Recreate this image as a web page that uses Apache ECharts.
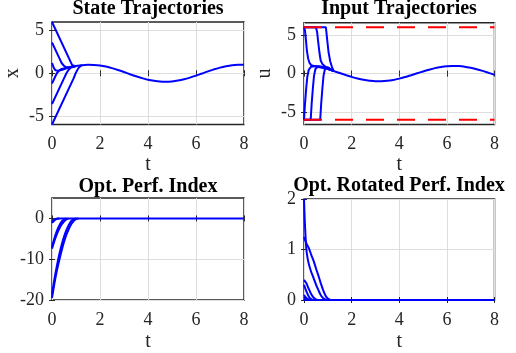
<!DOCTYPE html>
<html>
<head>
<meta charset="utf-8">
<script src="https://cdn.jsdelivr.net/npm/echarts@6/dist/echarts.min.js"></script>
<style>
html, body { margin: 0; padding: 0; background: #fff; }
#chart { width: 516px; height: 353px; }
</style>
</head>
<body>
<div id="chart"></div>
<script>
// tick labels
var tTicks = [0, 2, 4, 6, 8];
var xTicks = [-5, 0, 5];
var uTicks = [-5, 0, 5];
var perfTicks = [-20, -10, 0];
var rotTicks = [0, 1, 2];
var uLimit = 6;

// state trajectories x(t), one per initial state
var xFrom6 = [[0, 6], [0.84, 0.95], [0.95, 0.85], [1.0, 0.85]];
var xFrom36 = [[0, 3.6], [0.3, 1.8], [0.4, 1.2], [0.5, 0.85], [0.6, 0.7], [0.75, 0.72], [1.0, 0.84]];
var xFrom12 = [[0, 1.2], [0.08, 0.6], [0.15, 0.35], [0.25, 0.28], [0.4, 0.38], [0.6, 0.58], [0.8, 0.73], [1.0, 0.84]];
var xFromM12 = [[0, -1.2], [0.2, 0.0], [0.3, 0.35], [0.4, 0.5], [0.6, 0.62], [0.8, 0.73], [1.0, 0.84]];
var xFromM36 = [[0, -3.6], [0.5, -0.6], [0.6, 0.0], [0.7, 0.45], [0.8, 0.68], [1.0, 0.84]];
var xFromM6 = [[0, -6], [0.9, -0.6], [1.0, 0.1], [1.1, 0.6], [1.2, 0.88], [1.25, 0.95]];
var xSteady = [[1.0, 0.84], [1.25, 0.95], [1.5, 1.0], [1.75, 0.98], [2.0, 0.91], [2.25, 0.78], [2.5, 0.6],
  [2.75, 0.38], [3.0, 0.14], [3.25, -0.11], [3.5, -0.35], [3.75, -0.57], [4.0, -0.76], [4.25, -0.89],
  [4.5, -0.98], [4.75, -1.0], [5.0, -0.96], [5.25, -0.86], [5.5, -0.71], [5.75, -0.51], [6.0, -0.28],
  [6.25, -0.03], [6.5, 0.22], [6.75, 0.45], [7.0, 0.66], [7.25, 0.82], [7.5, 0.94], [7.75, 0.99], [8.0, 0.99]];

// input trajectories u(t)
var uFromM12 = [[0, 6], [0.04, 5.6], [0.08, 4.4], [0.12, 3.0], [0.17, 2.0], [0.23, 1.4], [0.3, 1.1], [0.45, 0.95], [0.7, 0.8], [1.0, 0.6], [1.25, 0.32]];
var uFromM36 = [[0, 6], [0.5, 6], [0.55, 5.4], [0.6, 4.0], [0.65, 2.7], [0.7, 1.7], [0.78, 1.2], [0.9, 0.9], [1.05, 0.7], [1.25, 0.32]];
var uFromM6 = [[0, 6], [0.92, 6], [0.97, 4.5], [1.03, 2.8], [1.1, 1.6], [1.18, 0.8], [1.25, 0.32]];
var uFrom12 = [[0, -6], [0.04, -4], [0.09, -2], [0.14, -0.4], [0.2, 0.5], [0.3, 0.9], [0.5, 1.0], [0.75, 0.85], [1.0, 0.62], [1.25, 0.32]];
var uFrom36 = [[0, -6], [0.28, -6], [0.32, -4], [0.37, -2], [0.42, -0.3], [0.48, 0.6], [0.6, 0.95], [0.8, 0.85], [1.0, 0.62], [1.25, 0.32]];
var uFrom6 = [[0, -6], [0.68, -6], [0.72, -4], [0.77, -2], [0.82, -0.3], [0.88, 0.6], [1.0, 0.8], [1.1, 0.6], [1.25, 0.32]];
var uSteady = [[1.25, 0.32], [1.5, 0.07], [1.75, -0.18], [2.0, -0.42], [2.25, -0.63], [2.5, -0.8], [2.75, -0.92],
  [3.0, -0.99], [3.25, -0.99], [3.5, -0.94], [3.75, -0.82], [4.0, -0.65], [4.25, -0.45], [4.5, -0.21],
  [4.75, 0.04], [5.0, 0.28], [5.25, 0.51], [5.5, 0.71], [5.75, 0.86], [6.0, 0.96], [6.25, 1.0], [6.5, 0.98],
  [6.75, 0.9], [7.0, 0.75], [7.25, 0.57], [7.5, 0.35], [7.75, 0.1], [8.0, -0.15]];
var uUpper = [[0, uLimit], [8, uLimit]];
var uLower = [[0, -uLimit], [8, -uLimit]];

// optimal performance index
var perfA = [[0, -19.5], [0.1, -16], [0.2, -12.9], [0.3, -10.3], [0.4, -7.9], [0.5, -5.8], [0.6, -4.0], [0.7, -2.6], [0.8, -1.45], [0.9, -0.65], [1.0, -0.16], [1.1, 0]];
var perfB = [[0, -18.6], [0.1, -14.9], [0.2, -11.7], [0.3, -8.9], [0.4, -6.5], [0.5, -4.5], [0.6, -2.9], [0.7, -1.6], [0.8, -0.7], [0.9, -0.2], [1.0, 0]];
var perfC = [[0, -7.4], [0.1, -5.5], [0.2, -3.9], [0.3, -2.55], [0.4, -1.5], [0.5, -0.75], [0.6, -0.25], [0.7, 0]];
var perfD = [[0, -7.0], [0.1, -4.9], [0.2, -3.1], [0.3, -1.8], [0.4, -0.8], [0.5, -0.2], [0.6, 0]];
var perfE = [[0, -1.1], [0.1, -0.5], [0.2, -0.12], [0.3, 0]];
var perfF = [[0, -0.9], [0.1, -0.3], [0.2, 0]];
var perfSteady = [[0.2, 0], [8, 0]];

// optimal rotated performance index
var rotA = [[0, 2], [0.03, 1.6], [0.06, 1.3], [0.1, 1.0], [0.15, 0.83], [0.2, 0.72], [0.3, 0.56], [0.4, 0.44], [0.5, 0.31], [0.6, 0.2], [0.7, 0.1], [0.8, 0.04], [0.9, 0.01], [1.0, 0]];
var rotB = [[0, 1.25], [0.1, 1.12], [0.2, 1.03], [0.3, 0.9], [0.4, 0.78], [0.5, 0.63], [0.6, 0.49], [0.7, 0.34], [0.8, 0.2], [0.9, 0.09], [1.0, 0.03], [1.1, 0]];
var rotC = [[0, 0.4], [0.1, 0.33], [0.2, 0.22], [0.3, 0.12], [0.4, 0.05], [0.5, 0.01], [0.6, 0]];
var rotD = [[0, 0.3], [0.1, 0.17], [0.2, 0.07], [0.3, 0.02], [0.4, 0]];
var rotE = [[0, 0.1], [0.1, 0.04], [0.2, 0.01], [0.3, 0]];
var rotF = [[0, 0.03], [0.1, 0.01], [0.2, 0]];
var rotSteady = [[0, 0], [8, 0]];

var font = 'Liberation Serif, Times New Roman, serif';
var ink = '#262626';

var grids = [
    { left: 52, top: 22, width: 192, height: 102.5 },
    { left: 304, top: 22.7, width: 190.5, height: 101.8 },
    { left: 52, top: 198, width: 192, height: 103 },
    { left: 304, top: 199, width: 190.5, height: 102 }
];
grids.forEach(function (g) {
    g.show = true;
    g.borderColor = ink;
    g.borderWidth = 1.5;
    g.backgroundColor = '#fff';
    g.containLabel = false;
});

function mainX(i, gap) {
    return {
        gridIndex: i, type: 'value', min: 0, max: 8, interval: 2,
        name: 't', nameLocation: 'middle', nameGap: gap,
        nameTextStyle: { fontFamily: font, fontSize: 20, color: ink },
        axisLine: { show: false },
        axisTick: { inside: true, length: 3, lineStyle: { color: ink, width: 1 } },
        axisLabel: { fontFamily: font, fontSize: 18, color: ink, margin: 11 },
        splitLine: { show: true, lineStyle: { color: '#dedede', width: 1 } }
    };
}
function topX(i) {
    return {
        gridIndex: i, type: 'value', min: 0, max: 8, interval: 2, position: 'top',
        axisLine: { show: false },
        axisTick: { inside: true, length: 3, lineStyle: { color: ink, width: 1 } },
        axisLabel: { show: false }, splitLine: { show: false }
    };
}
function mainY(i, min, max, ticks, name) {
    var ax = {
        gridIndex: i, type: 'value', min: min, max: max,
        axisLine: { show: false },
        axisTick: { inside: true, length: 3, customValues: ticks, lineStyle: { color: ink, width: 1 } },
        axisLabel: { fontFamily: font, fontSize: 18, color: ink, margin: 8, customValues: ticks },
        splitLine: { show: true, lineStyle: { color: '#dedede', width: 1 } }
    };
    if (name) {
        ax.name = name;
        ax.nameLocation = 'middle';
        ax.nameGap = 29;
        ax.nameRotate = 90;
        ax.nameTextStyle = { fontFamily: font, fontSize: 20, color: ink };
    }
    return ax;
}
function rightY(i, min, max, ticks) {
    return {
        gridIndex: i, type: 'value', min: min, max: max, position: 'right',
        axisLine: { show: false },
        axisTick: { inside: true, length: 3, customValues: ticks, lineStyle: { color: ink, width: 1 } },
        axisLabel: { show: false }, splitLine: { show: false }
    };
}

function blue(i, data, smooth) {
    return {
        type: 'line', xAxisIndex: i, yAxisIndex: i, data: data,
        showSymbol: false, symbol: 'none', clip: false, smooth: smooth ? 0.3 : false,
        lineStyle: { color: '#0000ff', width: 2 }, z: 3
    };
}
function redDash(i, data) {
    return {
        type: 'line', xAxisIndex: i, yAxisIndex: i, data: data,
        showSymbol: false, symbol: 'none', clip: false,
        lineStyle: { color: '#ff0000', width: 2, type: [18, 13] }, z: 4
    };
}

function titleAt(text, x, y) {
    return {
        text: text, left: x, top: y, textAlign: 'center', padding: 0,
        textStyle: { fontFamily: font, fontSize: 20, fontWeight: 'bold', color: '#000' }
    };
}

var option = {
    animation: false,
    backgroundColor: '#fff',
    title: [
        titleAt('State Trajectories', 148, -1),
        titleAt('Input Trajectories', 399, -1),
        titleAt('Opt. Perf. Index', 148, 176.5),
        titleAt('Opt. Rotated Perf. Index', 399, 176)
    ],
    grid: grids,
    xAxis: [mainX(0, 30), mainX(1, 30), mainX(2, 32), mainX(3, 32), topX(0), topX(1), topX(2), topX(3)],
    yAxis: [
        mainY(0, -6, 6, xTicks, 'x'),
        mainY(1, -6.6, 6.6, uTicks, 'u'),
        mainY(2, -20, 5, perfTicks),
        mainY(3, 0, 2, rotTicks),
        rightY(0, -6, 6, xTicks),
        rightY(1, -6.6, 6.6, uTicks),
        rightY(2, -20, 5, perfTicks),
        rightY(3, 0, 2, rotTicks)
    ],
    series: [
        blue(0, xFrom6), blue(0, xFrom36), blue(0, xFrom12), blue(0, xFromM12), blue(0, xFromM36), blue(0, xFromM6),
        blue(0, xSteady, true),
        blue(1, uFromM12), blue(1, uFromM36), blue(1, uFromM6), blue(1, uFrom12), blue(1, uFrom36), blue(1, uFrom6),
        blue(1, uSteady, true),
        redDash(1, uUpper), redDash(1, uLower),
        blue(2, perfA, true), blue(2, perfB, true), blue(2, perfC, true), blue(2, perfD, true), blue(2, perfE, true), blue(2, perfF, true),
        blue(2, perfSteady),
        blue(3, rotA, true), blue(3, rotB, true), blue(3, rotC, true), blue(3, rotD, true), blue(3, rotE, true), blue(3, rotF, true),
        blue(3, rotSteady)
    ]
};

var chart = echarts.init(document.getElementById('chart'), null, { renderer: 'canvas' });
chart.setOption(option);
</script>
</body>
</html>
